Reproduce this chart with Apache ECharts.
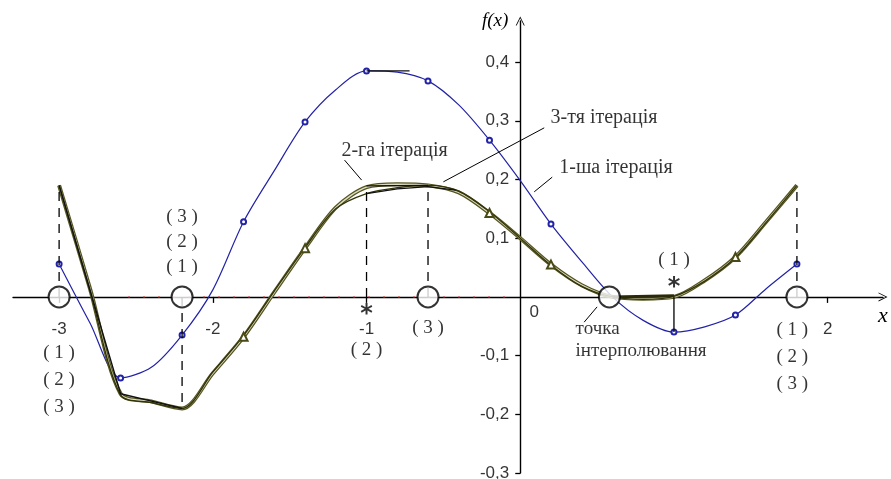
<!DOCTYPE html>
<html>
<head>
<meta charset="utf-8">
<script src="https://cdn.jsdelivr.net/npm/echarts@6/dist/echarts.min.js"></script>
<style>
  html, body { margin: 0; padding: 0; background: #fff; }
  #chart { width: 891px; height: 479px; }
</style>
</head>
<body>
<div id="chart"></div>
<script>
// Sample abscissas (step 0.2) shared by all three iteration curves
const xs = [-3.0, -2.8, -2.6, -2.4, -2.2, -2.0, -1.8, -1.6, -1.4, -1.2, -1.0, -0.8, -0.6,
            -0.4, -0.2, 0.0, 0.2, 0.4, 0.6, 0.8, 1.0, 1.2, 1.4, 1.6, 1.8];

// f(x) after the 1st, 2nd and 3rd iteration
const iter1 = [0.056, -0.044, -0.138, -0.120, -0.065, 0.012, 0.128, 0.215, 0.298, 0.353, 0.385, 0.383, 0.368,
               0.327, 0.267, 0.198, 0.124, 0.060, 0.000, -0.040, -0.060, -0.051, -0.031, 0.014, 0.056];
const iter2 = [0.190, 0.015, -0.165, -0.178, -0.190, -0.130, -0.068, 0.008, 0.083, 0.152, 0.187, 0.192, 0.190,
               0.178, 0.143, 0.100, 0.055, 0.020, 0.000, -0.003, 0.000, 0.028, 0.068, 0.128, 0.190];
const iter3 = [0.190, 0.012, -0.167, -0.180, -0.190, -0.128, -0.066, 0.010, 0.084, 0.150, 0.176, 0.186, 0.190,
               0.180, 0.145, 0.100, 0.054, 0.018, 0.000, -0.004, 0.001, 0.027, 0.067, 0.127, 0.190];

// where the curves carry point marks
const iter1Marks = [-3.0, -2.6, -2.2, -1.8, -1.4, -1.0, -0.6, -0.2, 0.2, 1.0, 1.4, 1.8];
const iter2Marks = [-1.8, -1.4, -0.2, 0.2, 1.4];

// interpolation nodes on the x axis and the node ordinates
const nodeX = [-3.0, -2.2, -0.6, 0.58, 1.8];
const dashX = [-3.0, -2.2, -1.0, -0.6, 1.8];
const dashY = [0.190, -0.190, 0.189, 0.190, 0.190];
const solidX = [1.0];
const solidY = [-0.060];

// straight approximation segments
const approxA = [[-3.0, 0.190], [-2.6, -0.165], [-2.2, -0.190]];
const approxB = [[-1.0, 0.189], [-0.6, 0.190]];
const approxC = [[-1.0, 0.176], [-0.8, 0.184], [-0.6, 0.188], [-0.42, 0.182]];
const approxD = [[-1.0, 0.385], [-0.72, 0.385]];
const approxE = [[0.6, 0.0], [1.0, 0.002]];

// axis tick values and their labels
const xTicks = [-3, -2, -1, 2];
const xTickLabels = ['-3', '-2', '-1', '2'];
const yTicks = [-0.3, -0.2, -0.1, 0.1, 0.2, 0.3, 0.4];
const yTickLabels = ['-0,3', '-0,2', '-0,1', '0,1', '0,2', '0,3', '0,4'];

const serif = '"Liberation Serif", "DejaVu Serif", serif';
const sans = '"Liberation Sans", Arial, sans-serif';
const OLIVE = '#4a4a16';
const BLUE = '#2323a8';

function curve(ys, marks) {
  return xs.map((x, i) => {
    const on = marks.some(m => Math.abs(m - x) < 1e-9);
    return { value: [x, ys[i]], symbol: on ? undefined : 'none' };
  });
}

function seg(points, color, width, type) {
  return {
    type: 'line', data: points, symbol: 'none', silent: true, z: 6,
    lineStyle: { color: color, width: width, type: type || 'solid' }
  };
}

function textLayer(items, base) {
  return {
    type: 'scatter', symbolSize: 0, silent: true, z: 8, clip: false,
    data: items.map(n => ({
      value: [n[1], n[2]],
      label: Object.assign({
        show: true, position: 'inside', formatter: n[0], color: '#000',
        align: 'center', verticalAlign: 'middle'
      }, base, n[3] || {})
    }))
  };
}

// text annotations: [text, x, y, options]
const notes = [
  ['( 1 )\n( 2 )\n( 3 )', -3.0, -0.141, { lineHeight: 27 }],
  ['( 3 )\n( 2 )\n( 1 )', -2.2, 0.094, { lineHeight: 25 }],
  ['( 2 )', -1.0, -0.090],
  ['( 3 )', -0.6, -0.053],
  ['( 1 )', 1.0, 0.063],
  ['( 1 )\n( 2 )\n( 3 )', 1.77, -0.102, { lineHeight: 27 }],
  ['точка\nінтерполювання', 0.36, -0.073, { align: 'left', lineHeight: 22 }],
  ['2-га ітерація', -0.818, 0.249, { fontSize: 20 }],
  ['3-тя ітерація', 0.545, 0.305, { fontSize: 20 }],
  ['1-ша ітерація', 0.623, 0.220, { fontSize: 20 }],
  ['*', -1.0, -0.030, { fontFamily: '"DejaVu Sans", sans-serif', fontSize: 24, fontWeight: 'bold' }],
  ['*', 1.0, 0.015, { fontFamily: '"DejaVu Sans", sans-serif', fontSize: 24, fontWeight: 'bold' }]
];

// tick labels placed beside the axes that cross at the origin
const tickNotes = xTicks.map((v, i) => [xTickLabels[i], v, -0.055])
  .concat(yTicks.map((v, i) => [yTickLabels[i], -0.072, v, { align: 'right' }]))
  .concat([['0', 0.091, -0.027]]);

// leader lines from captions to curves
const leaders = [
  [[-1.143, 0.233], [-1.032, 0.199]],
  [[-0.500, 0.196], [0.156, 0.288]],
  [[0.091, 0.179], [0.208, 0.204]],
  [[0.500, -0.017], [0.416, -0.043]]
];

const series = [];

// faint red dotted trace along the x axis
series.push({
  type: 'line', data: [[-2.55, 0], [-0.03, 0]], symbol: 'none', silent: true, z: 3,
  lineStyle: { color: '#e84040', width: 1.2, type: [1.5, 13.5] }
});

// dashed node ordinates
dashX.forEach((x, i) => series.push(seg([[x, 0], [x, dashY[i]]], '#000', 1.3, [9, 7])));
solidX.forEach((x, i) => series.push(seg([[x, 0], [x, solidY[i]]], '#000', 1.3)));

// 1st iteration
series.push({
  type: 'line', name: '1-ша ітерація', data: curve(iter1, iter1Marks), smooth: 0.3,
  symbol: 'emptyCircle', symbolSize: 5, z: 4,
  lineStyle: { color: BLUE, width: 1.2 }, itemStyle: { color: BLUE, borderWidth: 1 }
});

// 2nd iteration: double (hollow) stroke
series.push({
  type: 'line', name: '2-га ітерація', data: curve(iter2, []), smooth: 0.3, symbol: 'none', z: 4,
  lineStyle: { color: '#55551f', width: 4 }
});
series.push({
  type: 'line', data: curve(iter2, iter2Marks), smooth: 0.3,
  symbol: 'emptyTriangle', symbolSize: 8, z: 5,
  lineStyle: { color: '#dcdcc4', width: 1.5 }, itemStyle: { color: OLIVE, borderWidth: 1.3 }
});

// 3rd iteration
series.push({
  type: 'line', name: '3-тя ітерація', data: curve(iter3, []), smooth: 0.3, symbol: 'none', z: 5,
  lineStyle: { color: '#34340a', width: 1.4 }
});

// approximation segments
series.push(seg(approxA, '#111', 1.4));
series.push(seg(approxB, '#111', 1.3));
series.push(seg(approxC, '#111', 1.3));
series.push(seg(approxD, '#111', 1.3));
series.push(seg(approxE, '#2a2a08', 3));

// interpolation nodes
series.push({
  type: 'scatter', data: nodeX.map(x => [x, 0]), symbol: 'emptyCircle', symbolSize: 21, z: 7,
  itemStyle: { color: '#000', borderColor: '#000', borderWidth: 1.3 }, silent: true
});

// leader lines
leaders.forEach(l => series.push(seg(l, '#000', 1)));

// captions and tick labels
series.push(textLayer(notes, { fontFamily: serif, fontSize: 19 }));
series.push(textLayer(tickNotes, { fontFamily: sans, fontSize: 17 }));

const arrowPath = 'path://M0,10 L5,0 L10,10 L9,10 L5,2 L1,10 Z';

const chart = echarts.init(document.getElementById('chart'), null, { renderer: 'canvas' });
chart.setOption({
  animation: false,
  backgroundColor: '#fff',
  grid: { left: 13, right: 8, top: 21, bottom: 6, containLabel: false, outerBoundsMode: 'none' },
  xAxis: {
    type: 'value', min: -3.3, max: 2.36,
    name: 'x', nameLocation: 'end', nameGap: 0,
    nameTextStyle: { fontFamily: serif, fontStyle: 'italic', fontSize: 22, color: '#000',
                     align: 'center', verticalAlign: 'top', padding: [8, 0, 0, 0] },
    axisLine: { onZero: true, lineStyle: { color: '#000', width: 1.4 },
                symbol: ['none', arrowPath], symbolSize: [9, 12] },
    axisTick: { show: true, length: 6, customValues: xTicks, lineStyle: { color: '#000', width: 1.3 } },
    axisLabel: { show: false },
    splitLine: { show: false }
  },
  yAxis: {
    type: 'value', min: -0.3, max: 0.47,
    name: 'f(x)', nameLocation: 'end', nameGap: 0,
    nameTextStyle: { fontFamily: serif, fontStyle: 'italic', fontSize: 19, color: '#000',
                     align: 'right', verticalAlign: 'middle', padding: [0, 12, 0, 0] },
    axisLine: { onZero: true, lineStyle: { color: '#000', width: 1.4 },
                symbol: ['none', arrowPath], symbolSize: [9, 12] },
    axisTick: { show: true, length: 5, customValues: yTicks, lineStyle: { color: '#000', width: 1.3 } },
    axisLabel: { show: false },
    splitLine: { show: false }
  },
  series: series
});
</script>
</body>
</html>
